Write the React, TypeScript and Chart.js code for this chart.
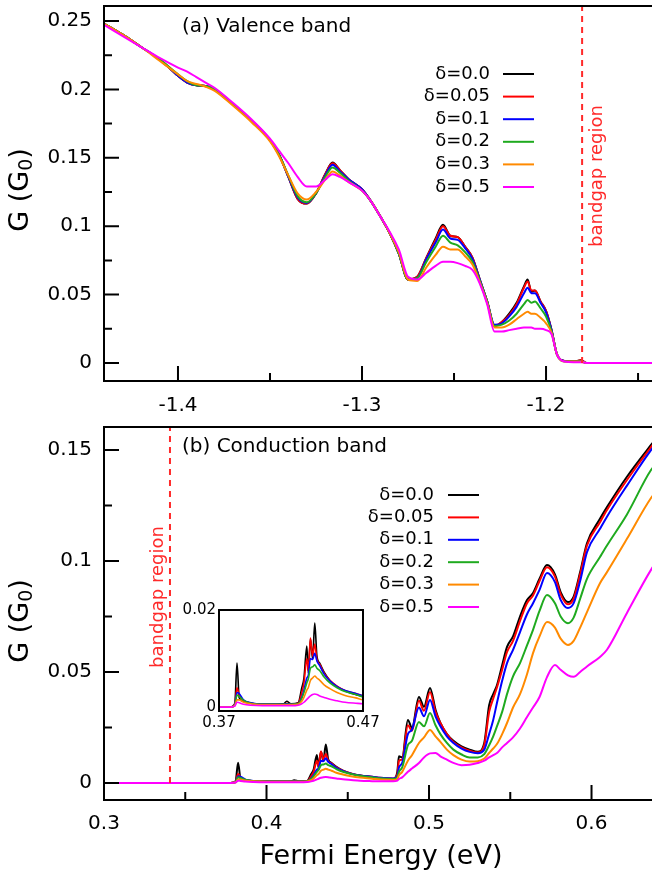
import React, { useEffect, useRef } from "react";
import { Chart, registerables } from "chart.js";
Chart.register(...registerables);

const FONT = '"DejaVu Sans", sans-serif';

const SERIES_LABELS = ["δ=0.0", "δ=0.05", "δ=0.1", "δ=0.2", "δ=0.3", "δ=0.5"];
const SERIES_COLORS = ["#000000", "#ff0000", "#0000ff", "#1faa1f", "#ff8a00", "#ff00ff"];

// ---------- (a) Valence band ----------
const VB_X = [-1.44, -1.43, -1.42, -1.41, -1.40, -1.395, -1.39, -1.385, -1.38, -1.37, -1.36, -1.35, -1.345, -1.34, -1.335, -1.33, -1.325, -1.32, -1.316, -1.312, -1.307, -1.30, -1.295, -1.29, -1.285, -1.28, -1.275, -1.27, -1.265, -1.26, -1.256, -1.252, -1.248, -1.244, -1.24, -1.236, -1.232, -1.228, -1.224, -1.22, -1.216, -1.212, -1.21, -1.208, -1.206, -1.203, -1.2, -1.197, -1.194, -1.19, -1.185, -1.181, -1.178, -1.17, -1.135];
const VB_D00 = [0.248, 0.240, 0.231, 0.222, 0.210, 0.205, 0.203, 0.2025, 0.200, 0.189, 0.177, 0.163, 0.152, 0.136, 0.120, 0.1165, 0.124, 0.138, 0.1465, 0.141, 0.134, 0.127, 0.118, 0.107, 0.095, 0.080, 0.061, 0.063, 0.077, 0.091, 0.101, 0.093, 0.092, 0.085, 0.077, 0.061, 0.045, 0.027, 0.030, 0.036, 0.044, 0.056, 0.061, 0.052, 0.053, 0.045, 0.038, 0.024, 0.006, 0.0015, 0.001, 0.002, 0, 0, 0];
const VB_D05 = [0.248, 0.240, 0.231, 0.222, 0.210, 0.205, 0.203, 0.2025, 0.200, 0.189, 0.177, 0.163, 0.152, 0.136, 0.120, 0.1165, 0.124, 0.138, 0.146, 0.141, 0.134, 0.127, 0.118, 0.107, 0.095, 0.080, 0.061, 0.063, 0.077, 0.090, 0.100, 0.093, 0.092, 0.085, 0.077, 0.061, 0.045, 0.027, 0.030, 0.035, 0.043, 0.055, 0.0595, 0.053, 0.053, 0.045, 0.038, 0.024, 0.006, 0.0015, 0.001, 0.002, 0, 0, 0];
const VB_D10 = [0.248, 0.240, 0.231, 0.222, 0.210, 0.205, 0.203, 0.2025, 0.200, 0.189, 0.177, 0.163, 0.152, 0.136, 0.121, 0.117, 0.124, 0.137, 0.145, 0.140, 0.134, 0.127, 0.118, 0.107, 0.095, 0.080, 0.061, 0.062, 0.076, 0.088, 0.0975, 0.091, 0.090, 0.084, 0.076, 0.061, 0.045, 0.028, 0.029, 0.034, 0.041, 0.051, 0.055, 0.051, 0.051, 0.044, 0.037, 0.024, 0.006, 0.0015, 0.001, 0.0015, 0, 0, 0];
const VB_D20 = [0.248, 0.240, 0.231, 0.222, 0.211, 0.206, 0.203, 0.2025, 0.200, 0.189, 0.177, 0.163, 0.152, 0.137, 0.122, 0.1175, 0.124, 0.136, 0.143, 0.139, 0.133, 0.126, 0.118, 0.107, 0.095, 0.080, 0.061, 0.062, 0.074, 0.085, 0.093, 0.088, 0.086, 0.081, 0.074, 0.060, 0.045, 0.027, 0.028, 0.031, 0.036, 0.043, 0.046, 0.044, 0.045, 0.040, 0.034, 0.023, 0.006, 0.001, 0.001, 0.001, 0, 0, 0];
const VB_D30 = [0.248, 0.240, 0.231, 0.221, 0.211, 0.206, 0.204, 0.202, 0.199, 0.188, 0.176, 0.162, 0.151, 0.137, 0.124, 0.1195, 0.125, 0.134, 0.140, 0.137, 0.132, 0.126, 0.118, 0.107, 0.095, 0.081, 0.061, 0.060, 0.070, 0.079, 0.085, 0.083, 0.083, 0.078, 0.072, 0.059, 0.044, 0.026, 0.026, 0.028, 0.032, 0.036, 0.0375, 0.036, 0.036, 0.033, 0.029, 0.022, 0.006, 0.001, 0.001, 0.001, 0, 0, 0];
const VB_D50 = [0.247, 0.239, 0.231, 0.223, 0.216, 0.213, 0.209, 0.205, 0.201, 0.190, 0.178, 0.164, 0.155, 0.146, 0.136, 0.129, 0.129, 0.134, 0.138, 0.136, 0.132, 0.126, 0.118, 0.107, 0.096, 0.083, 0.063, 0.061, 0.066, 0.071, 0.074, 0.074, 0.073, 0.071, 0.068, 0.058, 0.043, 0.023, 0.023, 0.024, 0.025, 0.026, 0.026, 0.026, 0.025, 0.025, 0.024, 0.021, 0.006, 0.001, 0.0005, 0.0005, 0, 0, 0];

const VB_X_TICKS = [-1.4, -1.3, -1.2];
const VB_X_MINOR = [-1.35, -1.25, -1.15];
const VB_Y_TICKS = [0, 0.05, 0.1, 0.15, 0.2, 0.25];
const VB_Y_MINOR = [0.025, 0.075, 0.125, 0.175, 0.225];
const VB_GAP = -1.1804;

// ---------- (b) Conduction band ----------
const CB_X = [0.30, 0.36, 0.378, 0.381, 0.3825, 0.384, 0.387, 0.392, 0.40, 0.41,
  0.415, 0.417, 0.42, 0.425, 0.4275, 0.429, 0.431, 0.432, 0.4335, 0.435,
  0.4365, 0.438, 0.44, 0.443, 0.447, 0.452, 0.4575, 0.465, 0.47, 0.478,
  0.4805, 0.4815, 0.4835, 0.487, 0.4895, 0.4938, 0.4969, 0.5006, 0.504, 0.507,
  0.511, 0.515, 0.52, 0.525, 0.53, 0.534, 0.537, 0.5395, 0.5418, 0.545,
  0.548, 0.5517, 0.556, 0.5603, 0.564, 0.568, 0.5726, 0.5775, 0.581, 0.5855,
  0.589, 0.593, 0.5972, 0.6052, 0.6095, 0.6218, 0.6366, 0.645];
const CB_D00 = [0, 0, 0, 0.0008, 0.0091, 0.002, 0.0012, 0.0008, 0.0006, 0.0006,
  0.0007, 0.0012, 0.0007, 0.0009, 0.004, 0.006, 0.0126, 0.007, 0.014, 0.010,
  0.0173, 0.0105, 0.009, 0.0072, 0.0055, 0.0042, 0.0033, 0.0026, 0.0022, 0.0018,
  0.005, 0.012, 0.0115, 0.0284, 0.0248, 0.0387, 0.0343, 0.0428, 0.033, 0.027,
  0.022, 0.019, 0.0165, 0.015, 0.014, 0.018, 0.035, 0.040, 0.044, 0.053,
  0.0613, 0.066, 0.075, 0.0824, 0.0856, 0.092, 0.0982, 0.094, 0.086, 0.0815,
  0.084, 0.095, 0.108, 0.119, 0.1243, 0.138, 0.1523, 0.160];
const CB_D05 = [0, 0, 0, 0.0006, 0.004, 0.0025, 0.0013, 0.0008, 0.0006, 0.0006,
  0.0006, 0.0008, 0.0006, 0.0008, 0.003, 0.005, 0.010, 0.0075, 0.0142, 0.0105,
  0.013, 0.0098, 0.0088, 0.007, 0.0055, 0.0043, 0.0034, 0.0028, 0.0023, 0.002,
  0.004, 0.010, 0.0105, 0.026, 0.0235, 0.037, 0.0325, 0.041, 0.032, 0.027,
  0.022, 0.0185, 0.016, 0.0145, 0.0137, 0.017, 0.032, 0.038, 0.043, 0.051,
  0.059, 0.064, 0.073, 0.081, 0.0845, 0.091, 0.0972, 0.093, 0.085, 0.0805,
  0.083, 0.094, 0.107, 0.1175, 0.123, 0.1365, 0.1513, 0.159];
const CB_D10 = [0, 0, 0, 0.0005, 0.003, 0.0028, 0.0015, 0.0009, 0.0006, 0.0006,
  0.0006, 0.0007, 0.0006, 0.0007, 0.002, 0.0035, 0.006, 0.0065, 0.010, 0.0098,
  0.0111, 0.0095, 0.0085, 0.0068, 0.0054, 0.0042, 0.0034, 0.0028, 0.0023, 0.002,
  0.003, 0.007, 0.009, 0.022, 0.024, 0.034, 0.030, 0.0374, 0.030, 0.0255,
  0.021, 0.018, 0.0155, 0.014, 0.0134, 0.015, 0.022, 0.0284, 0.036, 0.046,
  0.054, 0.060, 0.068, 0.076, 0.081, 0.087, 0.0946, 0.0905, 0.0825, 0.0788,
  0.081, 0.091, 0.104, 0.1145, 0.120, 0.134, 0.150, 0.1575];
const CB_D20 = [0, 0, 0, 0.0004, 0.0025, 0.0022, 0.0014, 0.0008, 0.0006, 0.0006,
  0.0006, 0.0006, 0.0006, 0.0007, 0.0018, 0.003, 0.005, 0.0058, 0.008, 0.0083,
  0.0087, 0.008, 0.0075, 0.0062, 0.005, 0.004, 0.0032, 0.0026, 0.0021, 0.0018,
  0.0025, 0.005, 0.007, 0.017, 0.019, 0.0275, 0.0255, 0.0315, 0.026, 0.022,
  0.018, 0.015, 0.0128, 0.0114, 0.0115, 0.013, 0.017, 0.021, 0.0255, 0.032,
  0.040, 0.048, 0.054, 0.062, 0.069, 0.0775, 0.0847, 0.081, 0.075, 0.072,
  0.0745, 0.083, 0.092, 0.1018, 0.107, 0.121, 0.141, 0.148];
const CB_D30 = [0, 0, 0, 0.0003, 0.0015, 0.0015, 0.001, 0.0007, 0.0005, 0.0005,
  0.0005, 0.0005, 0.0005, 0.0006, 0.0012, 0.002, 0.0035, 0.004, 0.0055, 0.006,
  0.0064, 0.006, 0.0055, 0.0046, 0.0038, 0.003, 0.0024, 0.0019, 0.0015, 0.0013,
  0.0018, 0.0035, 0.005, 0.010, 0.0125, 0.018, 0.0205, 0.0239, 0.021, 0.0185,
  0.015, 0.0125, 0.0105, 0.0096, 0.0098, 0.011, 0.0135, 0.0155, 0.0175, 0.022,
  0.027, 0.034, 0.040, 0.049, 0.0585, 0.066, 0.0725, 0.070, 0.065, 0.0622,
  0.064, 0.070, 0.077, 0.090, 0.095, 0.110, 0.1284, 0.136];
const CB_D50 = [0, 0, 0, 0.0002, 0.001, 0.0009, 0.0006, 0.0004, 0.0003, 0.0003,
  0.0003, 0.0003, 0.0003, 0.0004, 0.0007, 0.001, 0.0016, 0.0019, 0.0023, 0.0026,
  0.0027, 0.0026, 0.0023, 0.002, 0.0016, 0.0013, 0.001, 0.0008, 0.0007, 0.0007,
  0.001, 0.0018, 0.0025, 0.005, 0.0065, 0.009, 0.0115, 0.0133, 0.0135, 0.012,
  0.0105, 0.009, 0.008, 0.0082, 0.009, 0.010, 0.0115, 0.0125, 0.0135, 0.016,
  0.018, 0.0205, 0.0245, 0.0297, 0.034, 0.0387, 0.0477, 0.0531, 0.051, 0.0485,
  0.0478, 0.050, 0.0525, 0.0568, 0.060, 0.0766, 0.096, 0.105];

const CB_X_TICKS = [0.3, 0.4, 0.5, 0.6];
const CB_X_MINOR = [0.35, 0.45, 0.55];
const CB_Y_TICKS = [0, 0.05, 0.1, 0.15];
const CB_Y_MINOR = [0.025, 0.075, 0.125];
const CB_GAP = 0.3406;

const INSET_X_TICKS = [0.37, 0.47];
const INSET_Y_TICKS = [0, 0.02];

const fmt = (v: number) => String(parseFloat(v.toFixed(3)));

type Decor = {
  oy: number;
  xTicks: number[]; xMinor: number[]; yTicks: number[]; yMinor: number[];
  majorLen: number; minorLen: number;
  tickFont: number; yLabelGap: number; xLabelDy: number;
  legend?: { tx: number; lx1: number; lx2: number; y0: number; dy: number };
  panelLabel?: { text: string; x: number; y: number };
  gap?: { value: number; dx: number; cy: number };
  yTitle?: { x: number; y: number };
  xTitle?: { text: string; x: number; y: number };
  fillWhite?: boolean;
};

function makeDecor(d: Decor) {
  return {
    id: "decor",
    beforeDraw(chart: any) {
      if (!d.fillWhite) return;
      const { ctx, chartArea: a } = chart;
      ctx.save();
      ctx.fillStyle = "#ffffff";
      ctx.fillRect(a.left, a.top, a.right - a.left, a.bottom - a.top);
      ctx.restore();
    },
    afterDraw(chart: any) {
      const { ctx, chartArea: a } = chart;
      const xs = chart.scales.x;
      const ys = chart.scales.y;
      ctx.save();
      ctx.strokeStyle = "#000";
      ctx.lineWidth = 2;
      ctx.strokeRect(a.left, a.top, a.right - a.left, a.bottom - a.top);
      ctx.beginPath();
      const yt = (v: number, len: number) => { const p = ys.getPixelForValue(v); ctx.moveTo(a.left, p); ctx.lineTo(a.left + len, p); };
      const xt = (v: number, len: number) => { const p = xs.getPixelForValue(v); ctx.moveTo(p, a.bottom); ctx.lineTo(p, a.bottom - len); };
      if (d.majorLen > 0) {
        d.yTicks.forEach((v) => yt(v, d.majorLen));
        d.xTicks.forEach((v) => xt(v, d.majorLen));
        d.yMinor.forEach((v) => yt(v, d.minorLen));
        d.xMinor.forEach((v) => xt(v, d.minorLen));
      }
      ctx.stroke();

      ctx.fillStyle = "#000";
      ctx.font = `${d.tickFont}px ${FONT}`;
      ctx.textAlign = "right";
      ctx.textBaseline = "middle";
      d.yTicks.forEach((v) => ctx.fillText(fmt(v), a.left - d.yLabelGap, ys.getPixelForValue(v)));
      ctx.textAlign = "center";
      d.xTicks.forEach((v) => ctx.fillText(fmt(v), xs.getPixelForValue(v), a.bottom + d.xLabelDy));

      if (d.panelLabel) {
        ctx.font = `20px ${FONT}`;
        ctx.textAlign = "left";
        ctx.fillText(d.panelLabel.text, d.panelLabel.x, d.panelLabel.y - d.oy);
      }

      if (d.legend) {
        const L = d.legend;
        ctx.font = `18px ${FONT}`;
        ctx.textAlign = "right";
        SERIES_LABELS.forEach((lab, i) => {
          const y = L.y0 - d.oy + i * L.dy;
          ctx.fillStyle = "#000";
          ctx.fillText(lab, L.tx, y);
          ctx.strokeStyle = SERIES_COLORS[i];
          ctx.lineWidth = 2;
          ctx.beginPath();
          ctx.moveTo(L.lx1, y);
          ctx.lineTo(L.lx2, y);
          ctx.stroke();
        });
      }

      if (d.gap) {
        const px = xs.getPixelForValue(d.gap.value) + d.gap.dx;
        ctx.save();
        ctx.translate(px, d.gap.cy - d.oy);
        ctx.rotate(-Math.PI / 2);
        ctx.fillStyle = "#ff2a2a";
        ctx.font = `18px ${FONT}`;
        ctx.textAlign = "center";
        ctx.textBaseline = "middle";
        ctx.fillText("bandgap region", 0, 0);
        ctx.restore();
      }

      if (d.yTitle) {
        ctx.save();
        ctx.translate(d.yTitle.x, d.yTitle.y - d.oy);
        ctx.rotate(-Math.PI / 2);
        ctx.fillStyle = "#000";
        ctx.textBaseline = "middle";
        ctx.textAlign = "left";
        const big = `27px ${FONT}`;
        const small = `19px ${FONT}`;
        ctx.font = big;
        const w1 = ctx.measureText("G (G").width;
        const w3 = ctx.measureText(")").width;
        ctx.font = small;
        const w2 = ctx.measureText("0").width;
        let x = -(w1 + w2 + w3) / 2;
        ctx.font = big;
        ctx.fillText("G (G", x, 0);
        x += w1;
        ctx.font = small;
        ctx.fillText("0", x, 6);
        x += w2;
        ctx.font = big;
        ctx.fillText(")", x, 0);
        ctx.restore();
      }

      if (d.xTitle) {
        ctx.fillStyle = "#000";
        ctx.font = `27px ${FONT}`;
        ctx.textAlign = "center";
        ctx.textBaseline = "middle";
        ctx.fillText(d.xTitle.text, d.xTitle.x, d.xTitle.y - d.oy);
      }
      ctx.restore();
    },
  };
}

function seriesDatasets(xs: number[], ys: number[][], width: number) {
  return ys.map((arr, i) => ({
    label: SERIES_LABELS[i],
    data: xs.map((x, j) => ({ x, y: arr[j] })),
    borderColor: SERIES_COLORS[i],
    backgroundColor: SERIES_COLORS[i],
    borderWidth: width,
    pointRadius: 0,
    fill: false,
    cubicInterpolationMode: "monotone",
    order: ys.length - i,
  }));
}

function gapDataset(value: number, top: number) {
  return {
    label: "bandgap",
    data: [{ x: value, y: 0 }, { x: value, y: top }],
    borderColor: "#ff2a2a",
    borderWidth: 2,
    borderDash: [6, 5],
    pointRadius: 0,
    fill: false,
    order: -1,
  };
}

function makeChart(canvas: HTMLCanvasElement, datasets: any[], xr: number[], yr: number[], padding: any, decor: Decor) {
  return new Chart(canvas, {
    type: "line",
    data: { datasets },
    options: {
      responsive: false,
      animation: false,
      events: [],
      layout: { padding },
      scales: {
        x: { type: "linear", min: xr[0], max: xr[1], display: false },
        y: { type: "linear", min: yr[0], max: yr[1], display: false },
      },
      plugins: { legend: { display: false }, tooltip: { enabled: false } },
    } as any,
    plugins: [makeDecor(decor) as any],
  });
}

export default function App() {
  const topRef = useRef<HTMLCanvasElement>(null);
  const botRef = useRef<HTMLCanvasElement>(null);
  const insRef = useRef<HTMLCanvasElement>(null);

  useEffect(() => {
    const VB = [VB_D00, VB_D05, VB_D10, VB_D20, VB_D30, VB_D50];
    const CB = [CB_D00, CB_D05, CB_D10, CB_D20, CB_D30, CB_D50];
    const topY = [-0.0132, 0.261];
    const botY = [-0.0077, 0.1604];

    const c1 = makeChart(
      topRef.current!,
      [gapDataset(VB_GAP, topY[1]), ...seriesDatasets(VB_X, VB, 2)],
      [-1.4402, -1.1359], topY,
      { left: 104, top: 6, right: 0, bottom: 39 },
      {
        oy: 0, xTicks: VB_X_TICKS, xMinor: VB_X_MINOR, yTicks: VB_Y_TICKS, yMinor: VB_Y_MINOR,
        majorLen: 15, minorLen: 8, tickFont: 20, yLabelGap: 12, xLabelDy: 25,
        legend: { tx: 490, lx1: 503, lx2: 534, y0: 74, dy: 22.6 },
        panelLabel: { text: "(a) Valence band", x: 182, y: 27 },
        gap: { value: VB_GAP, dx: 15, cy: 176 },
        yTitle: { x: 21, y: 190 },
      }
    );

    const c2 = makeChart(
      botRef.current!,
      [gapDataset(CB_GAP, botY[1]), ...seriesDatasets(CB_X, CB, 2)],
      [0.3, 0.6446], botY,
      { left: 104, top: 27, right: 0, bottom: 71 },
      {
        oy: 400, xTicks: CB_X_TICKS, xMinor: CB_X_MINOR, yTicks: CB_Y_TICKS, yMinor: CB_Y_MINOR,
        majorLen: 15, minorLen: 8, tickFont: 20, yLabelGap: 12, xLabelDy: 24,
        legend: { tx: 434, lx1: 448, lx2: 479, y0: 495, dy: 22.4 },
        panelLabel: { text: "(b) Conduction band", x: 182, y: 447 },
        gap: { value: CB_GAP, dx: -12, cy: 597 },
        yTitle: { x: 21, y: 621 },
        xTitle: { text: "Fermi Energy (eV)", x: 381, y: 857 },
      }
    );

    const c3 = makeChart(
      insRef.current!,
      seriesDatasets(CB_X, CB, 1.6),
      [0.37, 0.47], [-0.0008, 0.02],
      { left: 49, top: 15, right: 37, bottom: 24 },
      {
        oy: 595, xTicks: INSET_X_TICKS, xMinor: [], yTicks: INSET_Y_TICKS, yMinor: [],
        majorLen: 0, minorLen: 0, tickFont: 15, yLabelGap: 3, xLabelDy: 12,
        fillWhite: true,
      }
    );

    return () => { c1.destroy(); c2.destroy(); c3.destroy(); };
  }, []);

  return (
    <div style={{ position: "absolute", left: 0, top: 0, width: 652, height: 871, overflow: "hidden", background: "#ffffff" }}>
      <canvas ref={topRef} width={664} height={420} style={{ position: "absolute", left: 0, top: 0 }} />
      <canvas ref={botRef} width={664} height={471} style={{ position: "absolute", left: 0, top: 400 }} />
      <canvas ref={insRef} width={230} height={140} style={{ position: "absolute", left: 170, top: 595 }} />
    </div>
  );
}
